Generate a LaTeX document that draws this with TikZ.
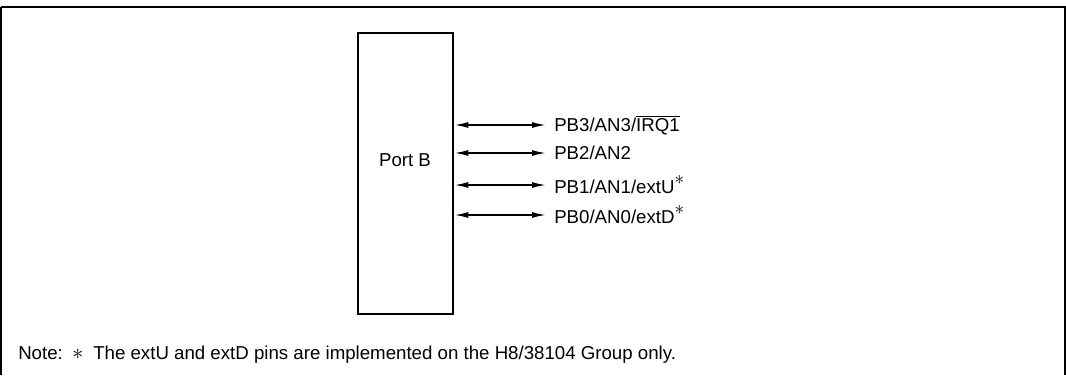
\documentclass[tikz,border=0pt]{standalone}
\usepackage{fontspec}
\usepackage{graphicx}
\setmainfont{Liberation Sans}
\usetikzlibrary{arrows.meta}
\newcommand{\astmark}{\raisebox{0.9ex}{$\ast$}}
\begin{document}
\begin{tikzpicture}[x=0.75pt,y=-0.75pt,
  lbl/.style={anchor=west,inner sep=0pt,font=\fontsize{14}{16}\selectfont},
  pin/.style={{Latex[length=10pt,width=4.5pt]}-{Latex[length=10pt,width=4.5pt]},line width=0.8pt},
  frame/.style={line width=1.4pt},
  portbox/.style={draw,line width=1.6pt,minimum width=71.25pt,minimum height=210.75pt,inner sep=0pt}]
\useasboundingbox (0,0) rectangle (1066,375);
\draw[frame] (1,7) -- (1065,7) -- (1065,375);
\draw[frame] (1,7) -- (1,375);
\node[portbox] (pb) at (405.5,173.5) {};
\node[font=\fontsize{14}{16}\selectfont] (pbl) at (405,160) {Port B};
\coordinate (l3) at (455,125); \coordinate (l2) at (455,153);
\coordinate (l1) at (455,185); \coordinate (l0) at (455,215);
\node[lbl] (t3) at (554,125) {PB3/AN3/$\overline{\mbox{IRQ1}}$};
\node[lbl] (t2) at (554,153) {PB2/AN2};
\node[lbl] (t1) at (554,185) {PB1/AN1/extU\astmark};
\node[lbl] (t0) at (554,215) {PB0/AN0/extD\astmark};
\draw[pin] (l3) -- ([xshift=-6.5pt]t3.west);
\draw[pin] (l2) -- ([xshift=-6.5pt]t2.west);
\draw[pin] (l1) -- ([xshift=-6.5pt]t1.west);
\draw[pin] (l0) -- ([xshift=-6.5pt]t0.west);
\node[lbl,anchor=base west] (note) at (18,359) {Note:};
\node[lbl,anchor=base] (nstar) at (78,359) {\scalebox{1.15}{$\ast$}};
\node[lbl,anchor=base west] (ntext) at (93,359) {The extU and extD pins are implemented on the H8/38104 Group only.};
\end{tikzpicture}
\end{document}
